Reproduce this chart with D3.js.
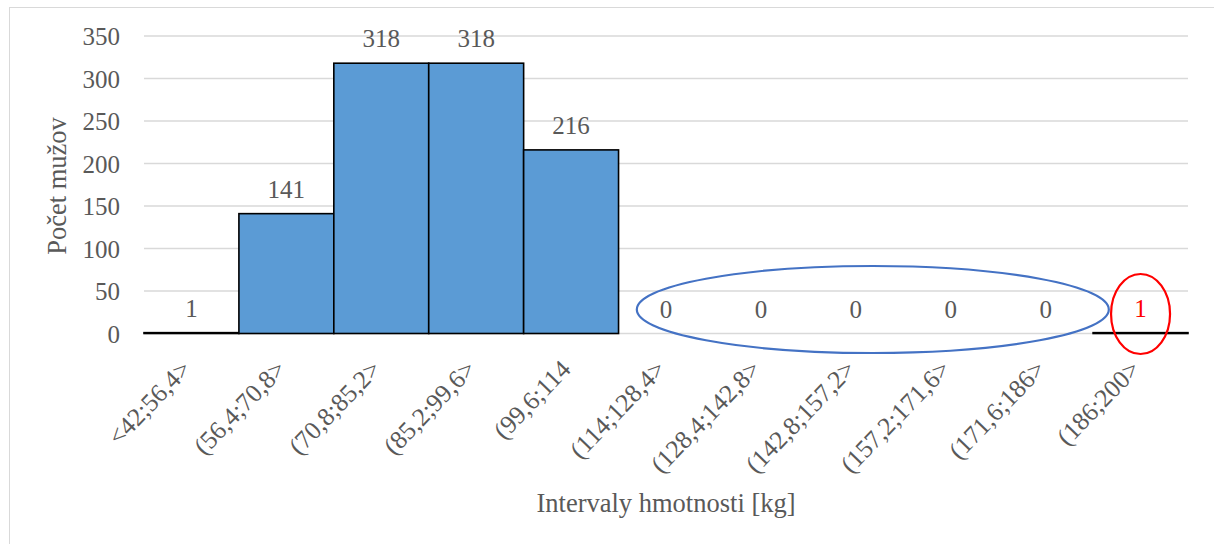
<!DOCTYPE html>
<html>
<head>
<meta charset="utf-8">
<script src="https://cdn.jsdelivr.net/npm/d3@7"></script>
<style>
  html, body { margin: 0; padding: 0; background: #fff; }
  svg { display: block; }
  text { font-family: "Liberation Serif", "Times New Roman", serif; fill: #595959; }
</style>
</head>
<body>
<svg id="chart" width="1214" height="544"></svg>
<script>
const categories = ["<42;56,4>", "(56,4;70,8>", "(70,8;85,2>", "(85,2;99,6>", "(99,6;114",
  "(114;128,4>", "(128,4;142,8>", "(142,8;157,2>", "(157,2;171,6>", "(171,6;186>", "(186;200>"];
const counts = [1, 141, 318, 318, 216, 0, 0, 0, 0, 0, 1];
const yTicks = [0, 50, 100, 150, 200, 250, 300, 350];
const xTitle = "Intervaly hmotnosti [kg]";
const yTitle = "Počet mužov";

const svg = d3.select("#chart");

// outer chart border
svg.append("rect").attr("x", 9.5).attr("y", 7.5).attr("width", 1220).attr("height", 560)
  .attr("fill", "none").attr("stroke", "#d9d9d9").attr("stroke-width", 1);

const x = d3.scaleBand().domain(categories).range([144, 1188]).padding(0);
const y = d3.scaleLinear().domain([0, 350]).range([333.5, 36]);

// gridlines
svg.append("g").selectAll("line").data(yTicks).join("line")
  .attr("x1", 144).attr("x2", 1188)
  .attr("y1", d => y(d)).attr("y2", d => y(d))
  .attr("stroke", "#d9d9d9").attr("stroke-width", 1.3);

// y axis labels
const yAxis = d3.axisLeft(y).tickValues(yTicks).tickSize(0).tickPadding(0);
const gy = svg.append("g").attr("transform", "translate(120,0)").call(yAxis);
gy.select(".domain").remove();
gy.selectAll("text").attr("font-size", 25).style("font-family", '"Liberation Serif", serif')
  .attr("fill", "#595959").attr("dy", "0.34em");

// bars
svg.append("g").selectAll("rect").data(counts).join("rect")
  .attr("x", (d, i) => x(categories[i]))
  .attr("width", x.bandwidth())
  .attr("y", d => y(d))
  .attr("height", d => y(0) - y(d))
  .attr("fill", "#5B9BD5")
  .attr("stroke", (d) => d > 0 ? "#000" : "none")
  .attr("stroke-width", 1.6);

// value labels
svg.append("g").selectAll("text").data(counts).join("text")
  .attr("x", (d, i) => x(categories[i]) + x.bandwidth() / 2)
  .attr("y", d => y(d) - 16)
  .attr("text-anchor", "middle")
  .attr("font-size", 25)
  .style("fill", (d, i) => i === counts.length - 1 ? "#ff0000" : "#595959")
  .text(d => d);

// x axis labels (rotated)
const xAxis = d3.axisBottom(x).tickSize(0).tickPadding(0);
const gx = svg.append("g").attr("transform", "translate(0,333.5)").call(xAxis);
gx.select(".domain").remove();
gx.selectAll("text")
  .attr("font-size", 25.5).style("font-family", '"Liberation Serif", serif').attr("fill", "#595959")
  .attr("text-anchor", "end")
  .attr("y", 0).attr("dy", 0)
  .attr("transform", "translate(1,37) rotate(-46)");

// axis titles
svg.append("text").attr("x", 666).attr("y", 512).attr("text-anchor", "middle")
  .attr("font-size", 26.5).text(xTitle);
svg.append("text").attr("transform", "translate(66,186) rotate(-90)").attr("text-anchor", "middle")
  .attr("font-size", 26.5).text(yTitle);

// annotation ellipses
const zStart = x(categories[5]), zEnd = x(categories[9]) + x.bandwidth();
svg.append("ellipse")
  .attr("cx", (zStart + zEnd) / 2 + 17).attr("cy", 309.5)
  .attr("rx", 236).attr("ry", 43.5)
  .attr("fill", "none").attr("stroke", "#4472C4").attr("stroke-width", 2.2);
const lastC = x(categories[10]) + x.bandwidth() / 2;
svg.append("ellipse")
  .attr("cx", lastC).attr("cy", 314)
  .attr("rx", 29.5).attr("ry", 40)
  .attr("fill", "none").attr("stroke", "#ff0000").attr("stroke-width", 2.2);
</script>
</body>
</html>
